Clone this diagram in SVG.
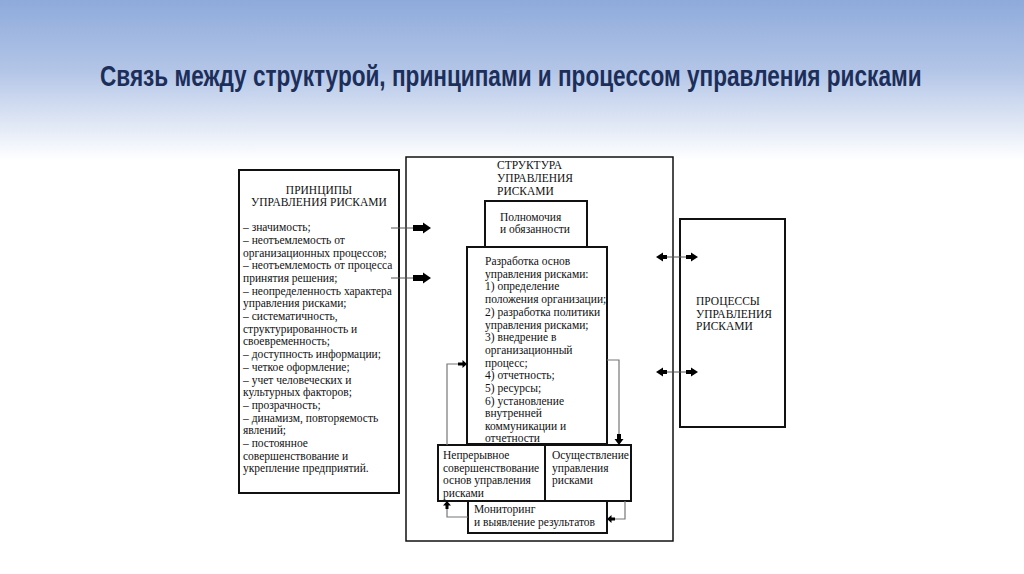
<svg xmlns="http://www.w3.org/2000/svg" width="1024" height="574" viewBox="0 0 1024 574">
<defs>
<linearGradient id="bg" x1="0" y1="0" x2="0" y2="1">
<stop offset="0" stop-color="#8eaadb"/>
<stop offset="0.45" stop-color="#b4c6e7"/>
<stop offset="1" stop-color="#ffffff"/>
</linearGradient>
<style>
.t{font-family:"Liberation Serif","Times New Roman",serif;font-size:11.5px;fill:#111}
.box{fill:#fff;stroke:#111;stroke-width:2}
.thin{fill:none;stroke:#111;stroke-width:1.5}
.fb{fill:none;stroke:#777;stroke-width:1.2}
.ln{fill:none;stroke:#555;stroke-width:1}
.ah{fill:#000}
.title{font-family:"Liberation Sans",Arial,sans-serif;font-weight:bold;font-size:30px;fill:#1c2f5a}
</style>
</defs>
<rect x="0" y="0" width="1024" height="574" fill="#fff"/>
<rect x="0" y="0" width="1024" height="160" fill="url(#bg)"/>
<g transform="translate(100,86) scale(0.76,1)">
<text class="title" x="0" y="0" textLength="1081" lengthAdjust="spacingAndGlyphs">Связь между структурой, принципами и процессом управления рисками</text>
</g>

<g id="principles">
<rect class="box" x="239" y="170" width="160" height="323"/>
<text class="t" x="319" y="194" text-anchor="middle">ПРИНЦИПЫ</text>
<text class="t" x="319" y="206" text-anchor="middle">УПРАВЛЕНИЯ РИСКАМИ</text>
<text class="t" x="243">
<tspan x="243" y="231.3">– значимость;</tspan>
<tspan x="243" y="244">– неотъемлемость от</tspan>
<tspan x="243" y="256.7">организационных процессов;</tspan>
<tspan x="243" y="269.3">– неотъемлемость от процесса</tspan>
<tspan x="243" y="282">принятия решения;</tspan>
<tspan x="243" y="294.7">– неопределенность характера</tspan>
<tspan x="243" y="307.4">управления рисками;</tspan>
<tspan x="243" y="320">– систематичность,</tspan>
<tspan x="243" y="332.7">структурированность и</tspan>
<tspan x="243" y="345.4">своевременность;</tspan>
<tspan x="243" y="358.1">– доступность информации;</tspan>
<tspan x="243" y="370.8">– четкое оформление;</tspan>
<tspan x="243" y="383.5">– учет человеческих и</tspan>
<tspan x="243" y="396.2">культурных факторов;</tspan>
<tspan x="243" y="408.9">– прозрачность;</tspan>
<tspan x="243" y="421.6">– динамизм, повторяемость</tspan>
<tspan x="243" y="434.3">явлений;</tspan>
<tspan x="243" y="447">– постоянное</tspan>
<tspan x="243" y="459.7">совершенствование и</tspan>
<tspan x="243" y="472.4">укрепление предприятий.</tspan>
</text>
</g>

<g id="structure">
<rect class="thin" x="406" y="157" width="267" height="384"/>
<text class="t" x="497" y="169">СТРУКТУРА</text>
<text class="t" x="497" y="182">УПРАВЛЕНИЯ</text>
<text class="t" x="497" y="195">РИСКАМИ</text>
</g>

<g id="authority">
<rect class="box" x="485" y="201" width="102" height="46"/>
<text class="t" x="500" y="221">Полномочия</text>
<text class="t" x="500" y="233">и обязанности</text>
</g>

<g id="framework">
<rect class="box" x="467" y="247" width="140" height="197"/>
<text class="t">
<tspan x="485" y="265">Разработка основ</tspan>
<tspan x="485" y="277.7">управления рисками:</tspan>
<tspan x="485" y="290.4">1) определение</tspan>
<tspan x="485" y="303.1">положения организации;</tspan>
<tspan x="485" y="315.8">2) разработка политики</tspan>
<tspan x="485" y="328.5">управления рисками;</tspan>
<tspan x="485" y="341.2">3) внедрение в</tspan>
<tspan x="485" y="353.9">организационный</tspan>
<tspan x="485" y="366.6">процесс;</tspan>
<tspan x="485" y="379.3">4) отчетность;</tspan>
<tspan x="485" y="392">5) ресурсы;</tspan>
<tspan x="485" y="404.7">6) установление</tspan>
<tspan x="485" y="417.4">внутренней</tspan>
<tspan x="485" y="430.1">коммуникации и</tspan>
<tspan x="485" y="442.3">отчетности</tspan>
</text>
</g>

<g id="improvement">
<rect class="box" x="438" y="445" width="107" height="56"/>
<text class="t">
<tspan x="443" y="459">Непрерывное</tspan>
<tspan x="443" y="471.5">совершенствование</tspan>
<tspan x="443" y="484">основ управления</tspan>
<tspan x="443" y="496.5">рисками</tspan>
</text>
</g>

<g id="implementation">
<rect class="box" x="545" y="445" width="86" height="56"/>
<text class="t">
<tspan x="552" y="459">Осуществление</tspan>
<tspan x="552" y="471.5">управления</tspan>
<tspan x="552" y="484">рисками</tspan>
</text>
</g>

<g id="monitoring">
<rect class="box" x="468" y="501" width="139" height="32"/>
<text class="t" x="474" y="513">Мониторинг</text>
<text class="t" x="474" y="526">и выявление результатов</text>
</g>

<g id="processes">
<rect class="box" x="680" y="219" width="105" height="208"/>
<text class="t" x="696" y="305">ПРОЦЕССЫ</text>
<text class="t" x="696" y="317.5">УПРАВЛЕНИЯ</text>
<text class="t" x="696" y="330">РИСКАМИ</text>
</g>

<g id="connectors">
<line class="ln" x1="391" y1="228" x2="414" y2="228"/>
<polygon class="ah" points="413,225 423,225 423,222.5 431,228 423,233.5 423,231 413,231"/>
<line class="ln" x1="391" y1="278" x2="414" y2="278"/>
<polygon class="ah" points="413,275 423,275 423,272.5 431,278 423,283.5 423,281 413,281"/>

<line class="ln" x1="664" y1="257" x2="688" y2="257"/>
<polygon class="ah" points="656,257 663,252.5 663,255 667,255 667,259 663,259 663,261.5"/>
<polygon class="ah" points="698,257 691,252.5 691,255 686,255 686,259 691,259 691,261.5"/>
<line class="ln" x1="664" y1="372" x2="688" y2="372"/>
<polygon class="ah" points="656,372 663,367.5 663,370 667,370 667,374 663,374 663,376.5"/>
<polygon class="ah" points="698,372 691,367.5 691,370 686,370 686,374 691,374 691,376.5"/>

<polyline class="fb" points="468,517 447,517 447,506"/>
<polygon class="ah" points="447,501 443,505.5 445.5,505.5 445.5,509 448.5,509 448.5,505.5 451,505.5"/>
<polyline class="fb" points="447,445 447,364 462,364"/>
<polygon class="ah" points="467,364 462.5,360 462.5,362.5 458,362.5 458,365.5 462.5,365.5 462.5,368"/>
<polyline class="fb" points="607,360 619,360 619,437"/>
<polygon class="ah" points="619,445 614.5,439 617,439 617,434 621,434 621,439 623.5,439"/>
<polyline class="fb" points="625,501 625,519 613,519"/>
<polygon class="ah" points="607,519 611.5,515 611.5,517.5 615,517.5 615,520.5 611.5,520.5 611.5,523"/>
</g>
</svg>
